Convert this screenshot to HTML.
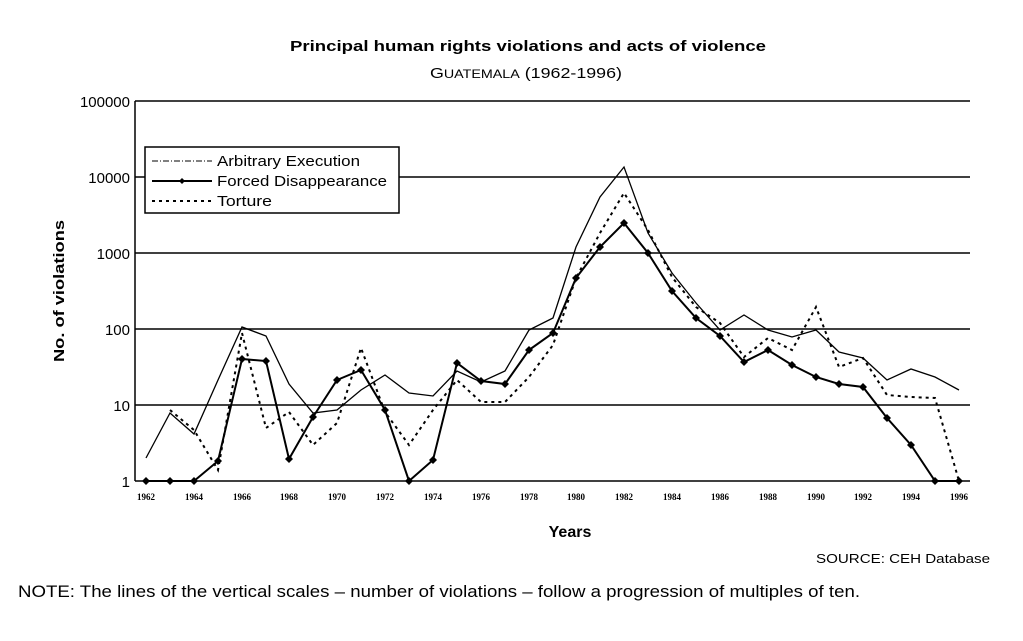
<!DOCTYPE html>
<html><head><style>body{margin:0;background:#fff}</style></head><body>
<svg width="1023" height="636" xmlns="http://www.w3.org/2000/svg" font-family="Liberation Sans, sans-serif">
<text x="290" y="51" textLength="476" lengthAdjust="spacingAndGlyphs" font-weight="bold" font-size="15">Principal human rights violations and acts of violence</text>
<text x="430" y="78" textLength="192" lengthAdjust="spacingAndGlyphs" font-size="15">G<tspan font-size="12">UATEMALA</tspan> (1962-1996)</text>
<g stroke="#000" stroke-width="1.5">
<line x1="135" y1="101" x2="970" y2="101"/><line x1="135" y1="177" x2="970" y2="177"/><line x1="135" y1="253" x2="970" y2="253"/><line x1="135" y1="329" x2="970" y2="329"/><line x1="135" y1="405" x2="970" y2="405"/><line x1="135" y1="481" x2="970" y2="481"/>
<line x1="135" y1="101" x2="135" y2="481"/>
</g>
<g font-size="15" text-anchor="end"><text x="130" y="107">100000</text><text x="130" y="183">10000</text><text x="130" y="259">1000</text><text x="130" y="335">100</text><text x="130" y="411">10</text><text x="130" y="487">1</text></g>
<text transform="translate(64,362) rotate(-90)" textLength="142" lengthAdjust="spacingAndGlyphs" font-weight="bold" font-size="15">No. of violations</text>
<g font-family="Liberation Serif, serif" font-weight="bold" font-size="9" text-anchor="middle">
<text x="146" y="500">1962</text><text x="194" y="500">1964</text><text x="242" y="500">1966</text><text x="289" y="500">1968</text><text x="337" y="500">1970</text><text x="385" y="500">1972</text><text x="433" y="500">1974</text><text x="481" y="500">1976</text><text x="529" y="500">1978</text><text x="576" y="500">1980</text><text x="624" y="500">1982</text><text x="672" y="500">1984</text><text x="720" y="500">1986</text><text x="768" y="500">1988</text><text x="816" y="500">1990</text><text x="863" y="500">1992</text><text x="911" y="500">1994</text><text x="959" y="500">1996</text>
</g>
<text x="570" y="537" text-anchor="middle" font-weight="bold" font-size="16">Years</text>
<text x="816" y="563" textLength="174" lengthAdjust="spacingAndGlyphs" font-size="13">SOURCE: CEH Database</text>
<text x="18" y="597" textLength="842" lengthAdjust="spacingAndGlyphs" font-size="17">NOTE: The lines of the vertical scales – number of violations – follow a progression of multiples of ten.</text>
<polyline fill="none" stroke="#000" stroke-width="1.3" points="146,458 170,413 194,434 218,380 242,327 266,336 289,384 313,413 337,410 361,390 385,375 409,393 433,396 457,371 481,382 505,371 529,330 553,318 576,247 600,197 624,167 648,233 672,273 696,303 720,330 744,315 768,330 792,337 816,330 839,352 863,358 887,380 911,369 935,377 959,390"/>
<polyline fill="none" stroke="#000" stroke-width="2" stroke-dasharray="3,4" points="170,410 194,430 218,470 242,333 266,428 289,412 313,445 337,423 361,348 385,412 409,445 433,410 457,380 481,402 505,402 529,377 553,345 576,278 600,233 624,193 648,230 672,277 696,307 720,323 744,357 768,338 792,350 816,307 839,367 863,358 887,395 911,397 935,398 959,481"/>
<polyline fill="none" stroke="#000" stroke-width="2" points="146,481 170,481 194,481 218,461 242,359 266,361 289,459 313,417 337,380 361,370 385,410 409,481 433,460 457,363 481,381 505,384 529,350 553,333 576,278 600,247 624,223 648,253 672,291 696,318 720,336 744,362 768,350 792,365 816,377 839,384 863,387 887,418 911,445 935,481 959,481"/>
<g fill="#000">
<path d="M146,477l4,4-4,4-4-4zM170,477l4,4-4,4-4-4zM194,477l4,4-4,4-4-4zM218,457l4,4-4,4-4-4zM242,355l4,4-4,4-4-4zM266,357l4,4-4,4-4-4zM289,455l4,4-4,4-4-4zM313,413l4,4-4,4-4-4zM337,376l4,4-4,4-4-4zM361,366l4,4-4,4-4-4zM385,406l4,4-4,4-4-4zM409,477l4,4-4,4-4-4zM433,456l4,4-4,4-4-4zM457,359l4,4-4,4-4-4zM481,377l4,4-4,4-4-4zM505,380l4,4-4,4-4-4zM529,346l4,4-4,4-4-4zM553,329l4,4-4,4-4-4zM576,274l4,4-4,4-4-4zM600,243l4,4-4,4-4-4zM624,219l4,4-4,4-4-4zM648,249l4,4-4,4-4-4zM672,287l4,4-4,4-4-4zM696,314l4,4-4,4-4-4zM720,332l4,4-4,4-4-4zM744,358l4,4-4,4-4-4zM768,346l4,4-4,4-4-4zM792,361l4,4-4,4-4-4zM816,373l4,4-4,4-4-4zM839,380l4,4-4,4-4-4zM863,383l4,4-4,4-4-4zM887,414l4,4-4,4-4-4zM911,441l4,4-4,4-4-4zM935,477l4,4-4,4-4-4zM959,477l4,4-4,4-4-4z"/>
</g>
<rect x="145" y="147" width="254" height="66" fill="#fff" stroke="#000" stroke-width="1.5"/>
<line x1="152" y1="161" x2="212" y2="161" stroke="#000" stroke-width="1" stroke-dasharray="6,2,1,2"/>
<line x1="152" y1="181" x2="212" y2="181" stroke="#000" stroke-width="2"/>
<path d="M182,178l3,3-3,3-3-3z"/>
<line x1="152" y1="201" x2="212" y2="201" stroke="#000" stroke-width="2" stroke-dasharray="3,4"/>
<g font-size="15"><text x="217" y="166" textLength="143" lengthAdjust="spacingAndGlyphs">Arbitrary Execution</text><text x="217" y="186" textLength="170" lengthAdjust="spacingAndGlyphs">Forced Disappearance</text><text x="217" y="206" textLength="55" lengthAdjust="spacingAndGlyphs">Torture</text></g>
</svg>
</body></html>
